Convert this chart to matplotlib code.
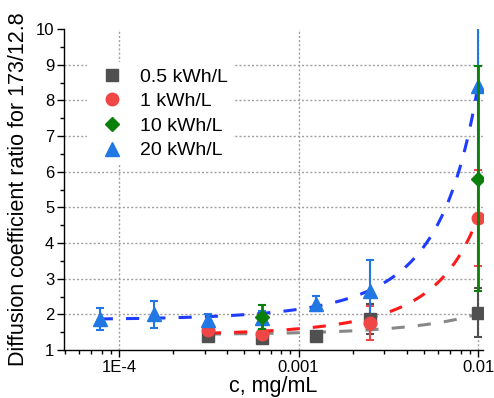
import numpy as np
import matplotlib
matplotlib.use("Agg")
import matplotlib.pyplot as plt
from matplotlib.ticker import FixedLocator, NullFormatter, LogLocator, MultipleLocator

plt.rcParams['font.family'] = ['Liberation Sans', 'DejaVu Sans']

# ---- data ----
c_05 = [3.125e-4, 6.25e-4, 1.25e-3, 2.5e-3, 1e-2]
y_05 = [1.40, 1.35, 1.40, 1.88, 2.05]
e_05 = [0.05, 0.05, 0.05, 0.42, 0.68]

c_1 = [3.125e-4, 6.25e-4, 2.5e-3, 1e-2]
y_1 = [1.55, 1.46, 1.75, 4.70]
e_1 = [0.20, 0.10, 0.48, 1.35]

c_10 = [6.25e-4, 1e-2]
y_10 = [1.93, 5.80]
e_10 = [0.33, 3.15]

c_20 = [7.8125e-5, 1.5625e-4, 3.125e-4, 6.25e-4, 1.25e-3, 2.5e-3, 1e-2]
y_20 = [1.87, 2.00, 1.85, 1.90, 2.30, 2.65, 8.40]
e_20 = [0.30, 0.37, 0.16, 0.20, 0.21, 0.86, 2.70]

# exponential-growth fit parameters y = y0 + A*exp(c/t), and fit range
fit_05 = dict(y0=-1.33, A=2.76, t=0.0525, cmin=3.125e-4, cmax=1e-2)
fit_1 = dict(y0=0.12, A=1.30, t=0.0079, cmin=3.125e-4, cmax=1e-2)
fit_20 = dict(y0=0.14, A=1.71, t=0.00634, cmin=7.8125e-5, cmax=1e-2)

labels = ["0.5 kWh/L", "1 kWh/L", "10 kWh/L", "20 kWh/L"]
xtick_vals = [1e-4, 1e-3, 1e-2]
xtick_labels = ["1E-4", "0.001", "0.01"]
ytick_vals = [1, 2, 3, 4, 5, 6, 7, 8, 9, 10]

col_05, col_1, col_10, col_20 = "#505050", "#f04646", "#0a800a", "#2178e4"
fitcol_05, fitcol_1, fitcol_20 = "#888888", "#ff1a1a", "#1e3cff"

fig = plt.figure(figsize=(4.94, 3.98), dpi=100)
ax = fig.add_axes([0.1296, 0.1206, 0.8481, 0.8065])
ax.set_xscale("log")
ax.set_xlim(4.94e-5, 1.066e-2)
ax.set_ylim(1, 10)

# grid
ax.set_axisbelow(True)
for xv in xtick_vals:
    ax.axvline(xv, color="#a0a0a0", lw=1.0, ls=(0, (1.5, 1.5)), zorder=0)
for yv in ytick_vals[1:-1]:
    ax.axhline(yv, color="#a0a0a0", lw=1.0, ls=(0, (1.5, 1.5)), zorder=0)

# fit curves
for f, col in [(fit_05, fitcol_05), (fit_1, fitcol_1), (fit_20, fitcol_20)]:
    cc = np.geomspace(f["cmin"], f["cmax"], 300)
    ax.plot(cc, f["y0"] + f["A"] * np.exp(cc / f["t"]), color=col, lw=2.2,
            ls=(0, (4.3, 4.3)), zorder=2)

ekw = dict(ls="none", elinewidth=1.5, capsize=3, capthick=1.5)
h05 = ax.errorbar(c_05, y_05, yerr=e_05, marker="s", ms=8, color=col_05, mec=col_05, zorder=3, **ekw)
h1 = ax.errorbar(c_1, y_1, yerr=e_1, marker="o", ms=9, color=col_1, mec=col_1, zorder=3, **ekw)
h20 = ax.errorbar(c_20, y_20, yerr=e_20, marker="^", ms=9.5, color=col_20, mec=col_20, zorder=3, **ekw)
h10 = ax.errorbar(c_10, y_10, yerr=e_10, marker="D", ms=7, color=col_10, mec=col_10, zorder=4,
                  ls="none", elinewidth=2.0, capsize=3, capthick=1.5)

leg = ax.legend([h05.lines[0], h1.lines[0], h10.lines[0], h20.lines[0]], labels,
                loc="upper left", bbox_to_anchor=(0.055, 0.897), borderaxespad=0,
                fontsize=14, frameon=True, facecolor="white", edgecolor="none",
                framealpha=1, handlelength=2.0, handletextpad=0.4, labelspacing=0.36,
                numpoints=1, borderpad=0.3, fancybox=False)
leg.set_zorder(5)

# axes styling
for s in ["top", "right"]:
    ax.spines[s].set_visible(False)
for s in ["left", "bottom"]:
    ax.spines[s].set_linewidth(1.0)
    ax.spines[s].set_color("black")

ax.xaxis.set_major_locator(FixedLocator(xtick_vals))
ax.set_xticklabels(xtick_labels)
ax.xaxis.set_minor_locator(LogLocator(base=10, subs=np.arange(2, 10), numticks=20))
ax.xaxis.set_minor_formatter(NullFormatter())
ax.yaxis.set_major_locator(FixedLocator(ytick_vals))
ax.set_yticklabels([str(v) for v in ytick_vals])
ax.yaxis.set_minor_locator(MultipleLocator(0.5))

ax.tick_params(which="major", direction="out", length=5, width=1, labelsize=12, pad=2)
ax.tick_params(which="minor", direction="out", length=3, width=1)

ax.set_xlabel("c, mg/mL", fontsize=15.5, labelpad=1)
ax.set_ylabel("Diffusion coefficient ratio for 173/12.8", fontsize=15.5, labelpad=5)

fig.savefig("out.png", dpi=100)
